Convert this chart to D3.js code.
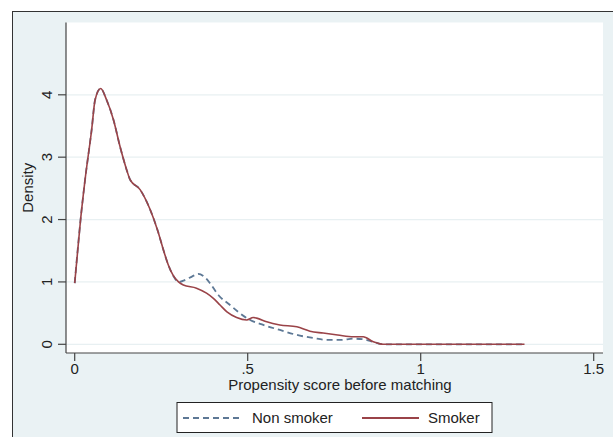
<!DOCTYPE html>
<html>
<head>
<meta charset="utf-8">
<script src="https://cdn.jsdelivr.net/npm/d3@7"></script>
<style>
  body { margin: 0; background: #fff; }
  text { font-family: "Liberation Sans", Arial, sans-serif; fill: #222; }
</style>
</head>
<body>
<svg width="613" height="437"></svg>
<script>
// propensity score grid
const smokerX = [0, 0.017, 0.03, 0.049, 0.059, 0.075, 0.092, 0.112, 0.131, 0.15, 0.16, 0.189, 0.218, 0.24, 0.256, 0.27, 0.285, 0.30, 0.314, 0.352, 0.381, 0.40, 0.42, 0.44, 0.468, 0.497, 0.516, 0.526, 0.555, 0.593, 0.642, 0.68, 0.718, 0.76, 0.805, 0.834, 0.863, 0.892, 1.0, 1.3]
const smokerY = [0.98, 2.0, 2.64, 3.44, 3.92, 4.10, 3.92, 3.6, 3.17, 2.8, 2.64, 2.48, 2.16, 1.82, 1.52, 1.28, 1.1, 1.0, 0.95, 0.90, 0.82, 0.74, 0.63, 0.52, 0.43, 0.39, 0.43, 0.42, 0.36, 0.31, 0.28, 0.21, 0.18, 0.15, 0.12, 0.12, 0.04, 0.0, 0.0, 0.0]

const nonSmokerX = [0, 0.017, 0.03, 0.049, 0.059, 0.075, 0.092, 0.112, 0.131, 0.15, 0.16, 0.189, 0.218, 0.24, 0.256, 0.27, 0.285, 0.30, 0.318, 0.34, 0.357, 0.375, 0.391, 0.415, 0.449, 0.477, 0.507, 0.545, 0.593, 0.642, 0.69, 0.728, 0.77, 0.805, 0.834, 0.863, 0.892, 1.0, 1.3]
const nonSmokerY = [0.98, 2.0, 2.64, 3.44, 3.92, 4.10, 3.92, 3.6, 3.17, 2.8, 2.64, 2.48, 2.16, 1.82, 1.52, 1.28, 1.1, 1.0, 1.03, 1.09, 1.13, 1.08, 0.98, 0.79, 0.63, 0.50, 0.39, 0.31, 0.23, 0.15, 0.10, 0.07, 0.07, 0.09, 0.08, 0.04, 0.0, 0.0, 0.0]

const xTicks = [0, 0.5, 1, 1.5]
const xTickLabels = ["0", ".5", "1", "1.5"]
const yTicks = [0, 1, 2, 3, 4]

const legendLabels = ["Non smoker", "Smoker"]

const svg = d3.select("svg")

// outer graph region
svg.append("rect")
  .attr("x", 12.5).attr("y", 11.5)
  .attr("width", 620).attr("height", 440)
  .attr("fill", "#eaf2f4")
  .attr("stroke", "#333").attr("stroke-width", 1)

// plot region
const plot = { left: 66, right: 603, top: 22.5, bottom: 353 }
svg.append("rect")
  .attr("x", plot.left).attr("y", plot.top)
  .attr("width", plot.right - plot.left).attr("height", plot.bottom - plot.top)
  .attr("fill", "#fff")

const x = d3.scaleLinear().domain([0, 1.5]).range([74.7, 593.7])
const y = d3.scaleLinear().domain([0, 4]).range([344.3, 94.8])

// gridlines
svg.append("g").selectAll("line")
  .data(yTicks).enter()
  .append("line")
  .attr("x1", plot.left).attr("x2", plot.right)
  .attr("y1", d => y(d)).attr("y2", d => y(d))
  .attr("stroke", "#e8f0f2").attr("stroke-width", 1.2)

// y axis
const yAxis = svg.append("g").attr("transform", `translate(${plot.left},0)`)
yAxis.append("line")
  .attr("y1", plot.top).attr("y2", plot.bottom)
  .attr("stroke", "#444").attr("stroke-width", 1.2)
yAxis.selectAll("line.tick")
  .data(yTicks).enter()
  .append("line").attr("class", "tick")
  .attr("x1", -8).attr("x2", 0)
  .attr("y1", d => y(d)).attr("y2", d => y(d))
  .attr("stroke", "#444").attr("stroke-width", 1.2)
yAxis.selectAll("text")
  .data(yTicks).enter()
  .append("text")
  .attr("transform", d => `translate(-14,${y(d)}) rotate(-90)`)
  .attr("text-anchor", "middle")
  .style("font-size", "15px")
  .text(d => d)

// x axis
const xAxis = svg.append("g").attr("transform", `translate(0,${plot.bottom})`)
xAxis.append("line")
  .attr("x1", plot.left).attr("x2", plot.right)
  .attr("stroke", "#444").attr("stroke-width", 1.2)
xAxis.selectAll("line.tick")
  .data(xTicks).enter()
  .append("line").attr("class", "tick")
  .attr("x1", d => x(d)).attr("x2", d => x(d))
  .attr("y1", 0).attr("y2", 8)
  .attr("stroke", "#444").attr("stroke-width", 1.2)
xAxis.selectAll("text")
  .data(xTicks).enter()
  .append("text")
  .attr("x", d => x(d)).attr("y", 21)
  .attr("text-anchor", "middle")
  .style("font-size", "15px")
  .text((d, i) => xTickLabels[i])

// axis titles
svg.append("text")
  .attr("transform", `translate(33,${(plot.top + plot.bottom) / 2}) rotate(-90)`)
  .attr("text-anchor", "middle")
  .style("font-size", "15px")
  .text("Density")

svg.append("text")
  .attr("x", 340).attr("y", 390)
  .attr("text-anchor", "middle")
  .style("font-size", "15px")
  .text("Propensity score before matching")

// curves
const line = d3.line()
  .x(d => x(d[0])).y(d => y(d[1]))
  .curve(d3.curveMonotoneX)

const nonSmoker = nonSmokerX.map((v, i) => [v, nonSmokerY[i]])
const smoker = smokerX.map((v, i) => [v, smokerY[i]])

const blue = "#5d7895", red = "#9a4348"

svg.append("path")
  .datum(nonSmoker)
  .attr("d", line)
  .attr("fill", "none")
  .attr("stroke", blue).attr("stroke-width", 1.8)
  .attr("stroke-dasharray", "6,4")

svg.append("path")
  .datum(smoker)
  .attr("d", line)
  .attr("fill", "none")
  .attr("stroke", red).attr("stroke-width", 1.6)

// legend
const legend = svg.append("g")
legend.append("rect")
  .attr("x", 177).attr("y", 402.5)
  .attr("width", 315).attr("height", 30)
  .attr("fill", "#fff").attr("stroke", "#222").attr("stroke-width", 1)

const legendItems = [
  { x1: 183, x2: 241, tx: 252, color: blue, dash: "6,4" },
  { x1: 362, x2: 419, tx: 428, color: red, dash: null }
]
legend.selectAll("line")
  .data(legendItems).enter()
  .append("line")
  .attr("x1", d => d.x1).attr("x2", d => d.x2)
  .attr("y1", 418).attr("y2", 418)
  .attr("stroke", d => d.color).attr("stroke-width", 1.8)
  .attr("stroke-dasharray", d => d.dash)
legend.selectAll("text")
  .data(legendItems).enter()
  .append("text")
  .attr("x", d => d.tx).attr("y", 423)
  .style("font-size", "15px")
  .text((d, i) => legendLabels[i])
</script>
</body>
</html>
